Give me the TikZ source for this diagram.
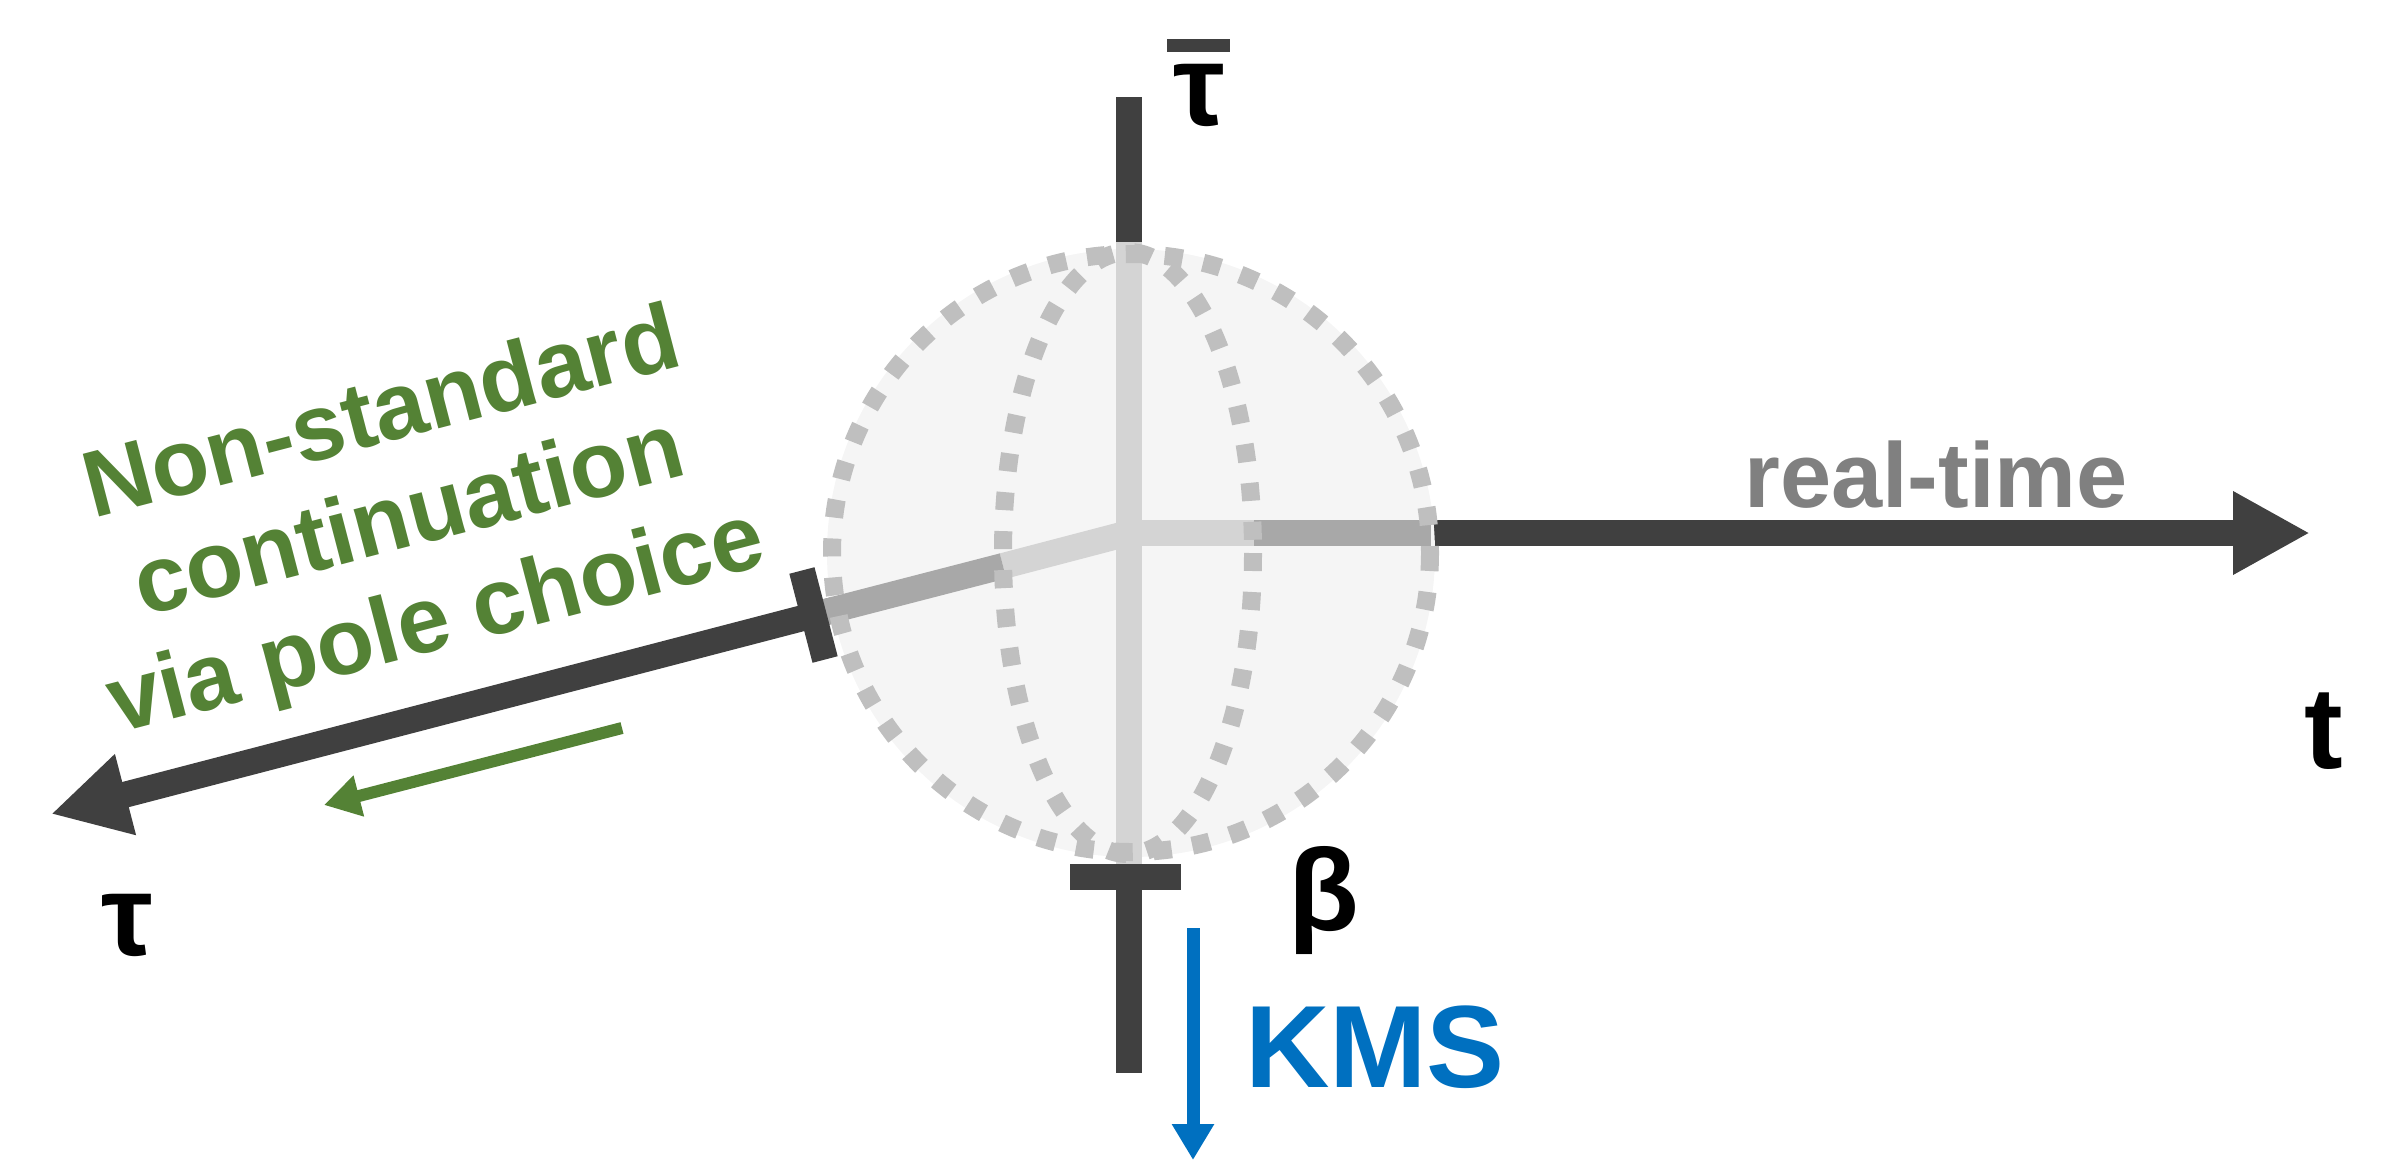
\documentclass[tikz,border=0pt]{standalone}
\usepackage{fontspec}
\setmainfont{Liberation Sans}
\usetikzlibrary{arrows.meta}
\definecolor{axisdark}{HTML}{404040}
\definecolor{barlight}{HTML}{D4D4D4}
\definecolor{barmid}{HTML}{A8A8A8}
\definecolor{dotgray}{HTML}{BFBFBF}
\definecolor{spherefill}{HTML}{F5F5F5}
\definecolor{contgreen}{HTML}{548235}
\definecolor{kmsblue}{HTML}{0070C0}
\definecolor{rtgray}{HTML}{808080}
\begin{document}
\begin{tikzpicture}[x=1pt,y=-1pt,
  axisline/.style={line width=26pt, draw=axisdark, line cap=butt},
  bigtip/.style={-{Triangle[length=77pt,width=78pt]}},
  innerbar/.style={line width=26pt, line cap=butt},
  ticklne/.style={line width=26pt, draw=axisdark, line cap=butt},
  dotline/.style={draw=dotgray, line width=18pt, line cap=butt, dash pattern=on 18pt off 21pt},
  biglab/.style={font=\fontsize{116}{130}\selectfont\bfseries, text=black, inner sep=0pt},
  greentext/.style={font=\fontsize{94}{107}\selectfont\bfseries, text=contgreen, inner sep=0pt, align=center},
  rttext/.style={font=\fontsize{92}{106}\selectfont\bfseries, text=rtgray, inner sep=0pt},
  kmstext/.style={font=\fontsize{117}{130}\selectfont\bfseries, text=kmsblue, inner sep=0pt},
  smallarrow/.style={line width=#1, line cap=butt, -{Triangle[length=36pt,width=40pt]}}
]
\useasboundingbox (0,0) rectangle (2402,1160);
% key points
\coordinate (O) at (1129,533);
\coordinate (S) at (1131,553);
\coordinate (vtop) at (1129,97);
\coordinate (vbot) at (1129,1073);
\coordinate (vin1) at (1129,242);
\coordinate (vin2) at (1129,866);
\coordinate (htip) at (2310,533);
\coordinate (hA) at (1254,533);
\coordinate (hB) at (1431,533);
\coordinate (dtip) at (51,814);
\coordinate (dA) at (1003,566);
\coordinate (dT) at (813.5,615);
\coordinate (tk1) at (801.9,570.5);
\coordinate (tk2) at (825.1,659.5);
\coordinate (bt1) at (1070,876.5);
\coordinate (bt2) at (1181,876.5);
% dark axes
\draw[axisline] (vtop) -- (vbot);
\draw[axisline, bigtip] (O) -- (htip);
\draw[axisline, bigtip] (O) -- (dtip);
% sphere
\fill[spherefill] (S) circle[radius=304];
% inner bars
\draw[innerbar, barlight] (vin1) -- (vin2);
\draw[innerbar, barlight] (O) -- (hA);
\draw[innerbar, barmid] (hA) -- (hB);
\draw[innerbar, barlight] (O) -- (dA);
\draw[innerbar, barmid] (dA) -- (dT);
% ticks
\draw[ticklne] (tk1) -- (tk2);
\draw[ticklne] (bt1) -- (bt2);
% dotted sphere outlines
\draw[dotline] (S) circle[radius=299];
\draw[dotline] (1128,553) ellipse[x radius=125, y radius=301];
% labels
\fill[axisdark] (1167,39) rectangle (1230,52);
\node[biglab, anchor=base] (taubar) at (1199,125) {τ};
\node[biglab, anchor=base] (tlab) at (2324,768) {t};
\node[biglab, anchor=base] (taulab) at (127,955) {τ};
\node[biglab, anchor=base] (beta) at (1324,930) {β};
\node[kmstext, anchor=base] (kms) at (1375,1087) {KMS};
\node[rttext, anchor=base] (rt) at (1936,507) {real-time};
\node[greentext, rotate=14.6] (cont) at (410,522) {Non-standard\\continuation\\via pole choice};
% small arrows
\coordinate (g1) at (622,728);
\coordinate (g2) at (324,805);
\draw[smallarrow=12pt, draw=contgreen, fill=contgreen] (g1) -- (g2);
\coordinate (b1) at (1193,928);
\coordinate (b2) at (1193,1160);
\draw[smallarrow=13pt, draw=kmsblue, fill=kmsblue] (b1) -- (b2);
\end{tikzpicture}
\end{document}
